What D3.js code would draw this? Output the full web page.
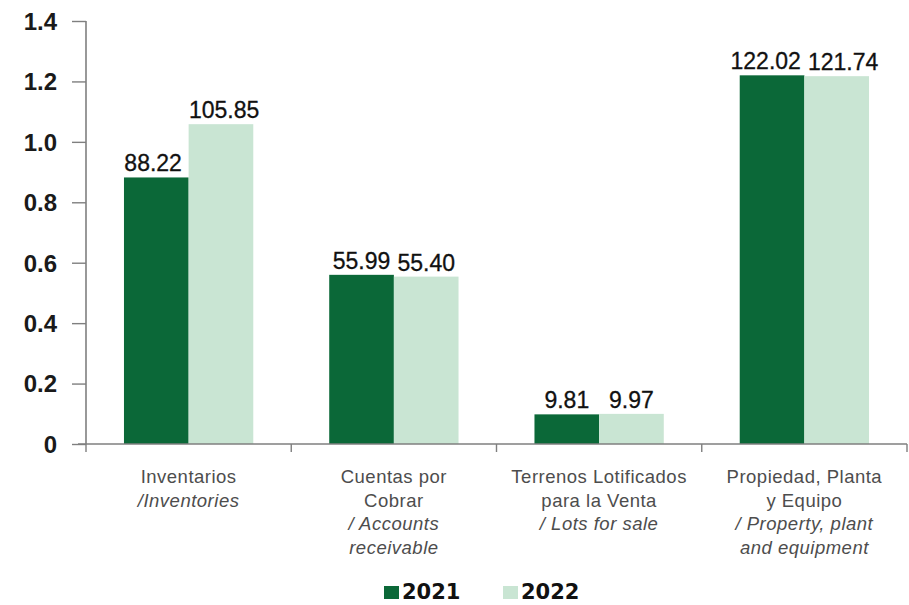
<!DOCTYPE html>
<html>
<head>
<meta charset="utf-8">
<script src="https://cdn.jsdelivr.net/npm/d3@7"></script>
<style>
  html, body { margin: 0; padding: 0; background: #ffffff; }
  svg { display: block; }
</style>
</head>
<body>
<svg id="chart" width="909" height="605"></svg>
<script>
// Balance items, millions (labels), plotted on a 0–1.4 scale
const categories = ["Inventarios", "Cuentas por Cobrar", "Terrenos Lotificados para la Venta", "Propiedad, Planta y Equipo"];
const categoryLabelsEs = [["Inventarios"], ["Cuentas por", "Cobrar"], ["Terrenos Lotificados", "para la Venta"], ["Propiedad, Planta", "y Equipo"]];
const categoryLabelsEn = [["/Inventories"], ["/ Accounts", "receivable"], ["/ Lots for sale"], ["/ Property, plant", "and equipment"]];
const years = ["2021", "2022"];
const values2021 = [88.22, 55.99, 9.81, 122.02];
const values2022 = [105.85, 55.40, 9.97, 121.74];
const yTickValues = [0, 0.2, 0.4, 0.6, 0.8, 1.0, 1.2, 1.4];
const yTickLabels = ["0", "0.2", "0.4", "0.6", "0.8", "1.0", "1.2", "1.4"];

const colors = { "2021": "#0b6838", "2022": "#c9e5d3" };
const axisColor = "#7f7f7f";

const svg = d3.select("#chart");
const plotLeft = 86, plotRight = 907, plotTop = 21, plotBottom = 444;

const x0 = d3.scaleBand().domain(categories).range([plotLeft, plotRight]).paddingInner(0).paddingOuter(0);
const bw = x0.bandwidth();
const x1 = d3.scaleBand().domain(years).range([bw * 0.185, bw * 0.815]).padding(0);
const y = d3.scaleLinear().domain([0, 1.4]).range([plotBottom, plotTop]);

const rows = categories.map((c, i) => ({
  cat: c,
  items: [
    { year: "2021", value: values2021[i] },
    { year: "2022", value: values2022[i] }
  ]
}));

// bars
const groups = svg.append("g").selectAll("g").data(rows).join("g")
  .attr("transform", d => `translate(${x0(d.cat)},0)`);

groups.selectAll("rect").data(d => d.items).join("rect")
  .attr("x", d => x1(d.year))
  .attr("width", x1.bandwidth())
  .attr("y", d => y(d.value / 100))
  .attr("height", d => y(0) - y(d.value / 100))
  .attr("fill", d => colors[d.year]);

// value labels
groups.each(function() {
  const labels = d3.select(this).selectAll("text.val").data(d => d.items).join("text")
    .attr("class", "val")
    .attr("x", d => x1(d.year) + x1.bandwidth() / 2)
    .attr("y", d => y(d.value / 100) - 6)
    .attr("text-anchor", "middle")
    .attr("font-family", "Liberation Sans, Arial, sans-serif")
    .attr("font-size", 23)
    .attr("fill", "#111")
    .attr("stroke", "#111")
    .attr("stroke-width", 0.3)
    .text(d => d.value.toFixed(2));
  // push apart the pair of labels when they would collide
  const nodes = labels.nodes();
  const w0 = nodes[0].getComputedTextLength(), w1 = nodes[1].getComputedTextLength();
  const gap = x1.bandwidth() - (w0 + w1) / 2;
  const minGap = 7;
  if (gap < minGap) {
    const shift = (minGap - gap) / 2;
    d3.select(nodes[0]).attr("dx", -shift);
    d3.select(nodes[1]).attr("dx", shift);
  }
});

// y axis
const yAxis = d3.axisLeft(y)
  .tickValues(yTickValues)
  .tickFormat((d, i) => yTickLabels[i])
  .tickSize(14)
  .tickPadding(15);

const gy = svg.append("g").attr("transform", `translate(${plotLeft},0)`).call(yAxis);
gy.select(".domain").attr("stroke", axisColor).attr("stroke-width", 1.6)
  .attr("d", `M0,${plotTop}V${plotBottom}`);
gy.selectAll(".tick line").attr("stroke", axisColor).attr("stroke-width", 1.4);
gy.selectAll(".tick text")
  .attr("font-family", "Liberation Sans, Arial, sans-serif")
  .attr("font-size", 24)
  .attr("font-weight", "bold")
  .attr("fill", "#1a1a1a")
  .attr("dy", "0.35em");

// x axis baseline and category separators
const gx = svg.append("g");
gx.append("line")
  .attr("x1", plotLeft - 8).attr("x2", plotRight)
  .attr("y1", y(0)).attr("y2", y(0))
  .attr("stroke", axisColor).attr("stroke-width", 1.6);
const bounds = categories.map(c => x0(c)).concat([x0.range()[1]]);
gx.selectAll("line.sep").data(bounds).join("line")
  .attr("class", "sep")
  .attr("x1", d => d).attr("x2", d => d)
  .attr("y1", y(0)).attr("y2", y(0) + 8)
  .attr("stroke", axisColor).attr("stroke-width", 1.4);

// category labels
const lineH = 23.5;
categories.forEach((c, i) => {
  const cx = x0(c) + bw / 2;
  const t = svg.append("text")
    .attr("x", cx).attr("y", 483)
    .attr("text-anchor", "middle")
    .attr("font-family", "Liberation Sans, Arial, sans-serif")
    .attr("font-size", 18.5)
    .attr("letter-spacing", 0.5)
    .attr("fill", "#4d4d4d");
  const es = categoryLabelsEs[i], en = categoryLabelsEn[i];
  es.forEach((line, j) => {
    t.append("tspan").attr("x", cx).attr("dy", j === 0 ? 0 : lineH).text(line);
  });
  en.forEach((line, j) => {
    t.append("tspan").attr("x", cx).attr("dy", lineH)
      .attr("font-style", "italic").text(line);
  });
});

// legend
const legendX = [384, 503];
const leg = svg.append("g").selectAll("g").data(years).join("g")
  .attr("transform", (d, i) => `translate(${legendX[i]},0)`);
leg.append("rect")
  .attr("x", 0).attr("y", 586).attr("width", 15).attr("height", 13)
  .attr("fill", d => colors[d]);
leg.append("text")
  .attr("x", 18).attr("y", 599)
  .attr("font-family", "DejaVu Sans, sans-serif")
  .attr("font-weight", "bold")
  .attr("font-size", 21)
  .attr("fill", "#111")
  .text(d => d);
</script>
</body>
</html>
